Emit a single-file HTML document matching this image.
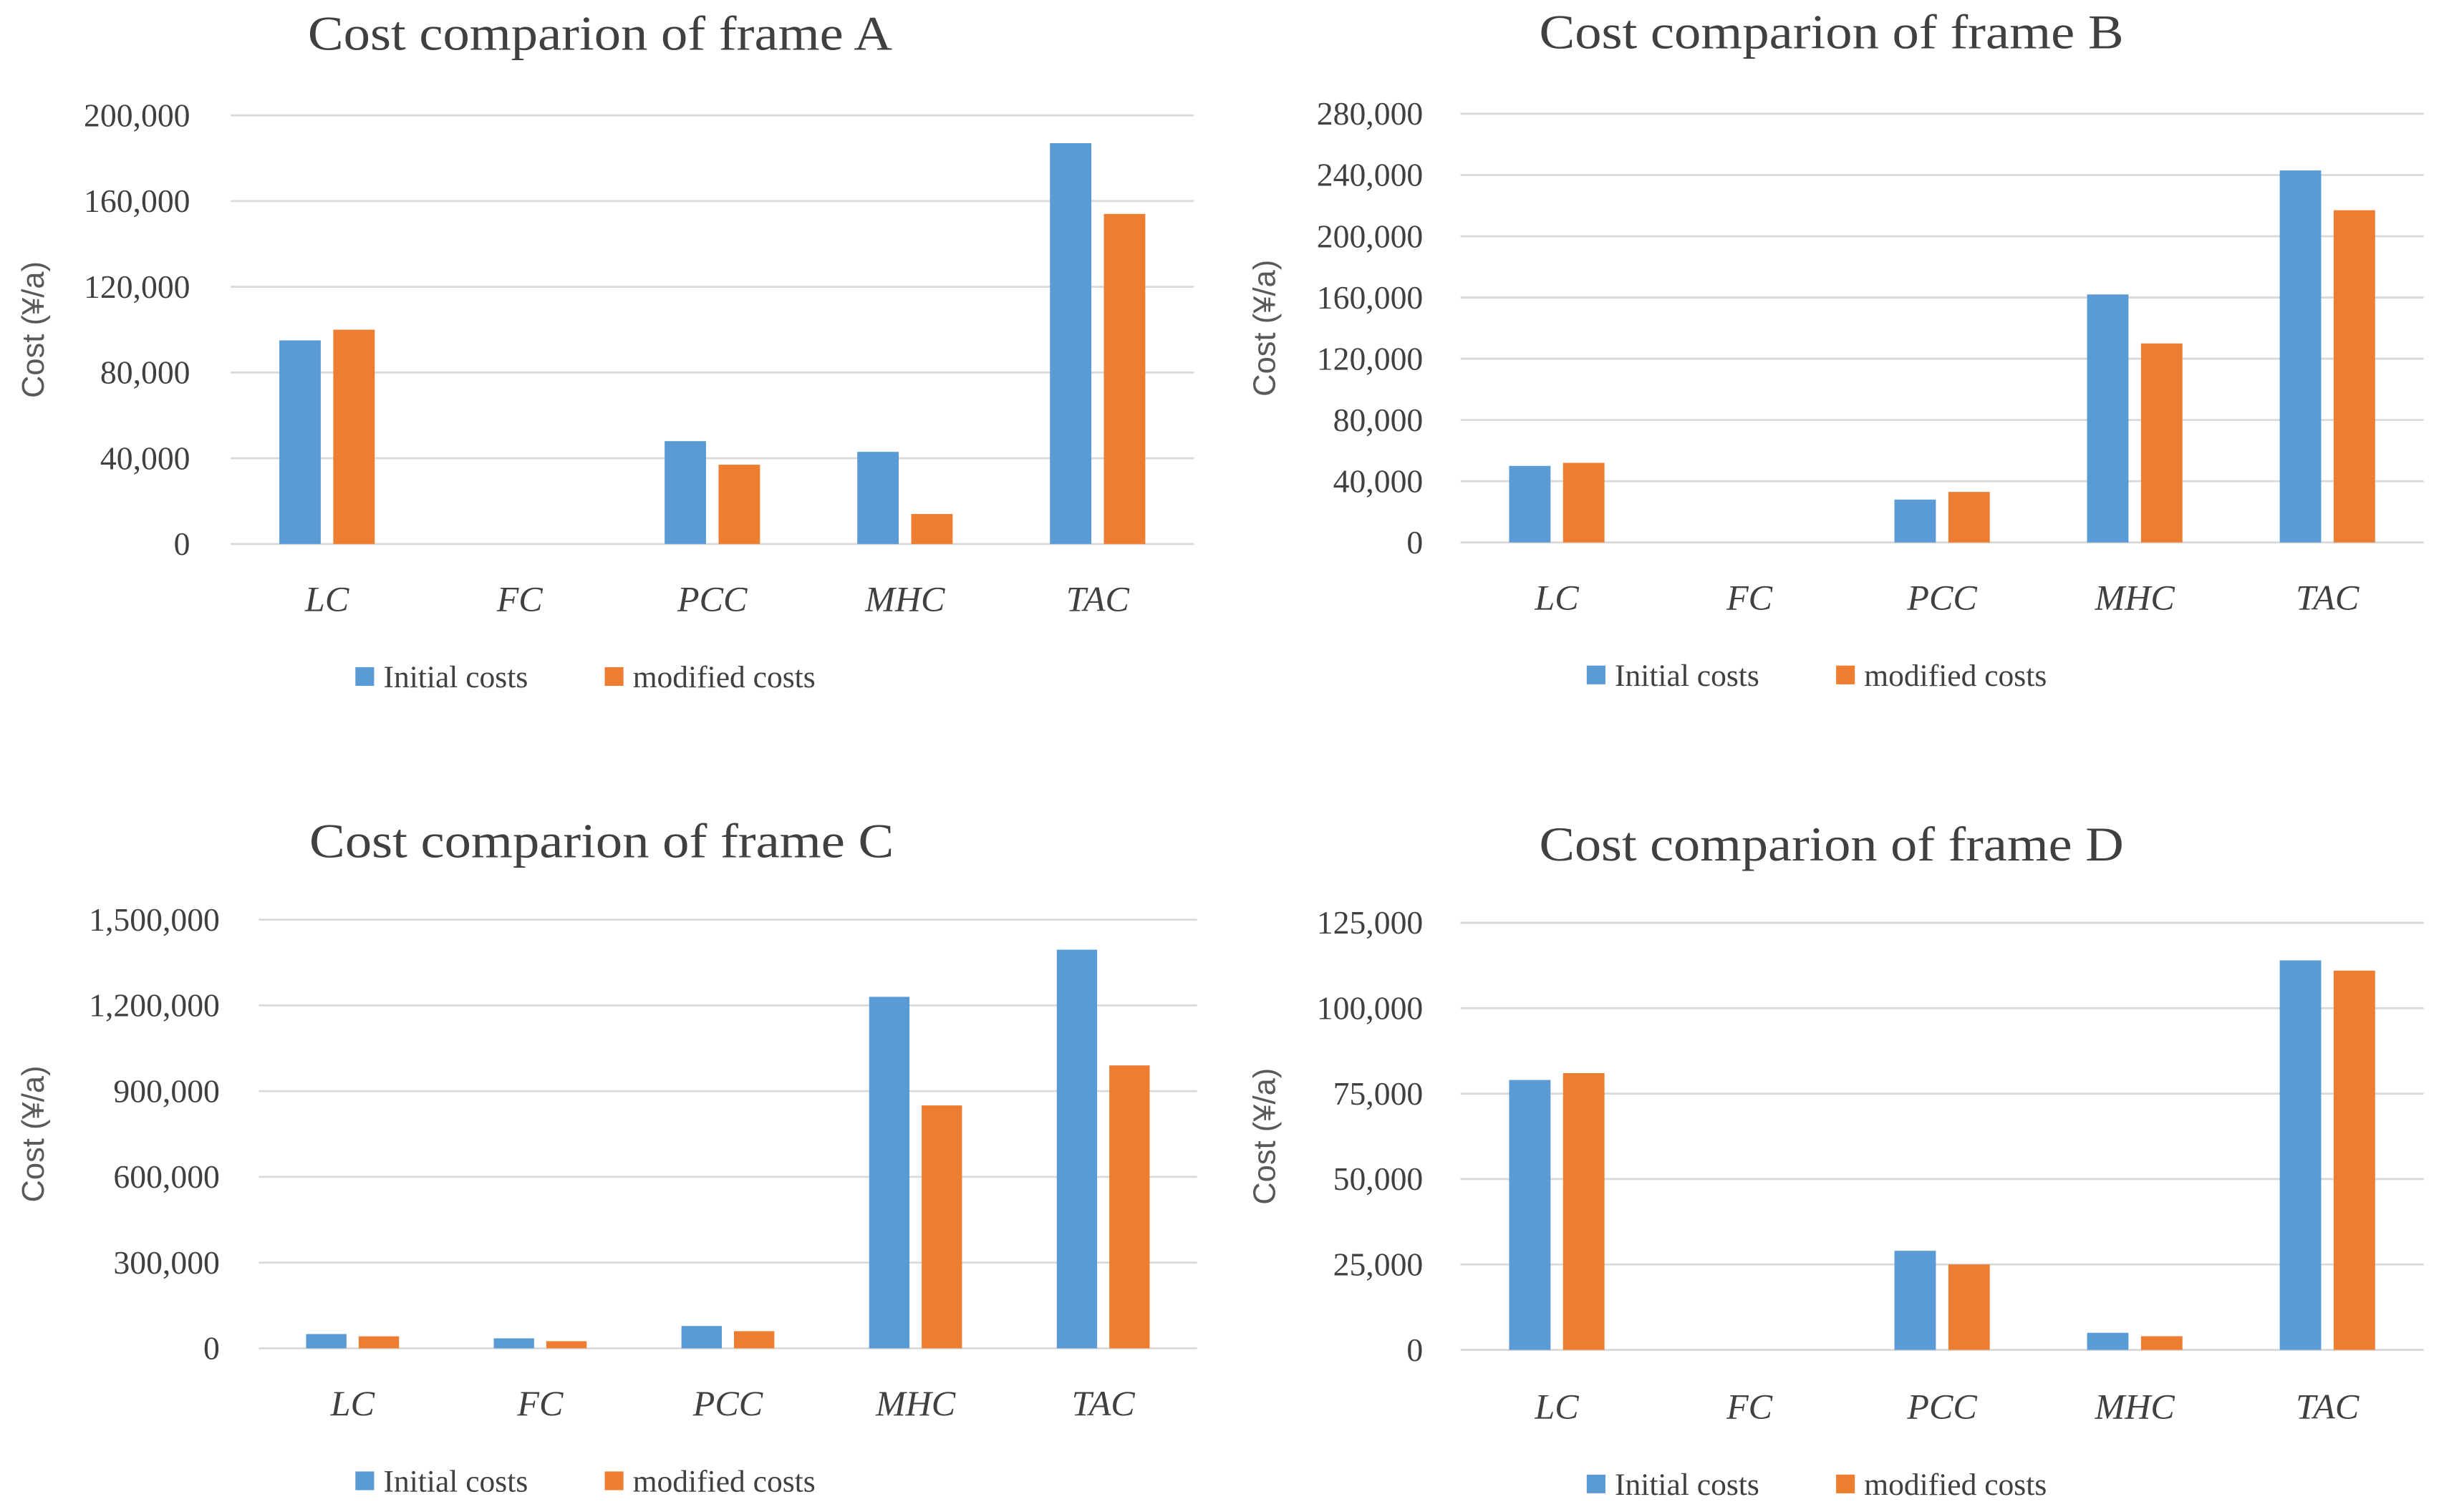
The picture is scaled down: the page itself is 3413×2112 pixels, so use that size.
<!DOCTYPE html>
<html><head><meta charset="utf-8"><style>
html,body{margin:0;padding:0;background:#fff;}
svg{display:block;}
.t{font-family:"Liberation Serif",serif;fill:#404040;}
</style></head><body>
<svg id="c" width="3413" height="2112" viewBox="0 0 1568 970" preserveAspectRatio="none" xmlns="http://www.w3.org/2000/svg"></svg>
<script>
const categories = ["LC","FC","PCC","MHC","TAC"];
const titles = ["Cost comparion of frame A","Cost comparion of frame B","Cost comparion of frame C","Cost comparion of frame D"];
const initialA = [95000, 0, 48000, 43000, 187000];
const modifiedA = [100000, 0, 37000, 14000, 154000];
const initialB = [50000, 0, 28000, 162000, 243000];
const modifiedB = [52000, 0, 33000, 130000, 217000];
const initialC = [50000, 35000, 78000, 1230000, 1395000];
const modifiedC = [42000, 25000, 60000, 850000, 990000];
const initialD = [79000, 0, 29000, 5000, 114000];
const modifiedD = [81000, 0, 25000, 4000, 111000];
const ticksA = [0, 40000, 80000, 120000, 160000, 200000];
const ticksB = [0, 40000, 80000, 120000, 160000, 200000, 240000, 280000];
const ticksC = [0, 300000, 600000, 900000, 1200000, 1500000];
const ticksD = [0, 25000, 50000, 75000, 100000, 125000];
const legendLabels = ["Initial costs","modified costs"];

const NS = "http://www.w3.org/2000/svg";
const svg = document.getElementById("c");
function mk(tag, attrs, parent, text){
  const e = document.createElementNS(NS, tag);
  for (const k in attrs) e.setAttribute(k, attrs[k]);
  if (text !== undefined) e.textContent = text;
  parent.appendChild(e);
  return e;
}
const fmt = v => v.toLocaleString("en-US");

const panels = [
  {id:"a", title:titles[0], ini:initialA, mod:modifiedA, ticks:ticksA, x0:148, x1:766, yTop:74, yBot:349, titleY:32, catY:392, legY:434, titleX:385, axisX:22, tickX:122, legX:228},
  {id:"b", title:titles[1], ini:initialB, mod:modifiedB, ticks:ticksB, x0:937, x1:1555, yTop:73, yBot:348, titleY:31, catY:391, legY:433, titleX:1175, axisX:812, tickX:913, legX:1018},
  {id:"c", title:titles[2], ini:initialC, mod:modifiedC, ticks:ticksC, x0:166, x1:768, yTop:590, yBot:865, titleY:550, catY:908, legY:950, titleX:386, axisX:22, tickX:141, legX:228},
  {id:"d", title:titles[3], ini:initialD, mod:modifiedD, ticks:ticksD, x0:937, x1:1555, yTop:592, yBot:866, titleY:552, catY:910, legY:952, titleX:1175, axisX:812, tickX:913, legX:1018}
];

panels.forEach(p => {
  const g = mk("g", {}, svg);
  
  
  const maxV = p.ticks[p.ticks.length-1];
  const yS = v => p.yBot - (v / maxV) * (p.yBot - p.yTop);
  const band = (p.x1 - p.x0) / categories.length;
  const xC = i => p.x0 + band * (i + 0.5);
  const bw = band * 0.215, gap = band * 0.065;

  const t = mk("text", {x:p.titleX, y:p.titleY, "text-anchor":"middle", "font-size":31, class:"t", textLength:375, lengthAdjust:"spacingAndGlyphs"}, g, p.title);
  
  

  p.ticks.forEach(v => {
    const y = yS(v);
    const l = mk("line", {x1:p.x0, x2:p.x1, y1:y, y2:y, stroke:"#d9d9d9", "stroke-width":1.3}, g);
    
    
    const tl = mk("text", {x:p.tickX, y:y+7, "text-anchor":"end", "font-size":21, class:"t", fill:"#595959"}, g, fmt(v));
    
    
  });

  const at = mk("text", {x:0, y:0, transform:`translate(${p.axisX+6},${(p.yTop+p.yBot)/2}) rotate(-90)`, "text-anchor":"middle", "font-size":20, "font-family":"Liberation Sans, sans-serif", fill:"#595959"}, g, "Cost (¥/a)");
  
  

  categories.forEach((c, i) => {
    const cx = xC(i);
    const vi = p.ini[i], vm = p.mod[i];
    if (vi > 0) {
      const r = mk("rect", {x:cx-gap/2-bw, y:yS(vi), width:bw, height:p.yBot-yS(vi), fill:"#5b9bd5"}, g);
      
      
    }
    if (vm > 0) {
      const r = mk("rect", {x:cx+gap/2, y:yS(vm), width:bw, height:p.yBot-yS(vm), fill:"#ed7d31"}, g);
      
      
    }
    const cl = mk("text", {x:cx, y:p.catY, "text-anchor":"middle", "font-size":23, "font-style":"italic", class:"t", fill:"#595959"}, g, c);
    
    
  });

  const lx = p.legX;
  const cols = ["#5b9bd5","#ed7d31"];
  const offs = [0, 160];
  legendLabels.forEach((lab, k) => {
    const lg = mk("g", {}, g);
    
    
    mk("rect", {x:lx+offs[k], y:p.legY-6, width:12, height:12, fill:cols[k]}, lg);
    mk("text", {x:lx+offs[k]+18, y:p.legY+7, "font-size":20, class:"t", fill:"#595959"}, lg, lab);
  });
});
</script>
</body></html>
